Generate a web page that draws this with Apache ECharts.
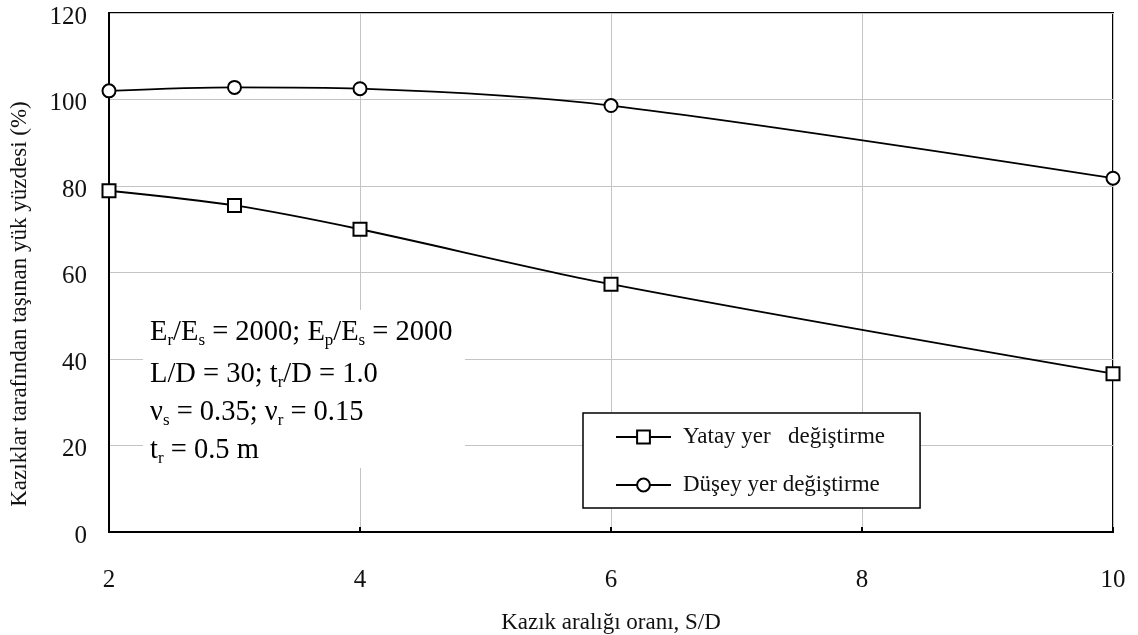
<!DOCTYPE html>
<html>
<head>
<meta charset="utf-8">
<script src="https://cdn.jsdelivr.net/npm/echarts@6/dist/echarts.min.js"></script>
<style>
  html, body { margin: 0; padding: 0; background: #fff; }
  #chart { width: 1138px; height: 635px; }
</style>
</head>
<body>
<div id="chart"></div>
<script>
// Pile spacing ratio S/D and share of load carried by the piles (%)
const spacingRatio = [2, 3, 4, 6, 10];
const horizontalDisp = [78.9, 75.5, 70.0, 57.3, 36.6];
const verticalDisp = [102.0, 102.8, 102.5, 98.6, 81.8];
const seriesNames = ['Yatay yer   değiştirme', 'Düşey yer değiştirme'];
const xAxisName = 'Kazık aralığı oranı, S/D';
const yAxisName = 'Kazıklar tarafından taşınan yük yüzdesi (%)';

const serif = '"Liberation Serif", "DejaVu Serif", serif';

function pairs(xs, ys) {
  return xs.map((x, i) => [x, ys[i]]);
}

// parameter block, with subscripts as rich-text tokens
const rich = {
  n: { fontFamily: serif, fontSize: 28.5, lineHeight: 34, color: '#111', verticalAlign: 'middle' },
  s: { fontFamily: serif, fontSize: 17, lineHeight: 14, color: '#111', verticalAlign: 'bottom' }
};
const paramLines = [
  '{n|E}{s|r}{n|/E}{s|s}{n| = 2000; E}{s|p}{n|/E}{s|s}{n| = 2000}',
  '{n|L/D = 30; t}{s|r}{n|/D = 1.0}',
  '{n|ν}{s|s}{n| = 0.35; ν}{s|r}{n| = 0.15}',
  '{n|t}{s|r}{n| = 0.5 m}'
];
const paramTops = [318, 360, 398, 436];

const chart = echarts.init(document.getElementById('chart'), null, { renderer: 'canvas' });

const lineStyle = { color: '#000', width: 1.8 };

chart.setOption({
  backgroundColor: '#fff',
  animation: false,
  grid: {
    left: 109, right: 25, top: 13, bottom: 103,
    outerBoundsMode: 'none', containLabel: false,
    show: true, borderColor: '#000', borderWidth: 2, backgroundColor: 'transparent'
  },
  xAxis: {
    type: 'value', min: 2, max: 10, interval: 2,
    name: xAxisName, nameLocation: 'middle', nameGap: 79,
    nameTextStyle: { fontFamily: serif, fontSize: 23, color: '#111' },
    axisLine: { show: true, lineStyle: { color: '#000', width: 2 } },
    axisTick: { show: true, inside: true, length: 5, lineStyle: { color: '#000', width: 2 } },
    axisLabel: { fontFamily: serif, fontSize: 25, color: '#111', margin: 36 },
    splitLine: { show: true, lineStyle: { color: '#c4c4c4', width: 1 } }
  },
  yAxis: {
    type: 'value', min: 0, max: 120, interval: 20,
    axisLine: { show: true, lineStyle: { color: '#000', width: 2 } },
    axisTick: { show: false },
    axisLabel: {
      margin: 22,
      formatter: '{v|{value}}',
      rich: { v: { fontFamily: serif, fontSize: 25, color: '#111', padding: [8, 0, 0, 0] } }
    },
    splitLine: { show: true, lineStyle: { color: '#c4c4c4', width: 1 } }
  },
  legend: {
    orient: 'vertical',
    left: 583, top: 413,
    padding: [11, 35, 10, 32],
    itemWidth: 55, itemHeight: 16, itemGap: 22,
    backgroundColor: '#fff', borderColor: '#000', borderWidth: 1.5,
    textStyle: { fontFamily: serif, fontSize: 23, lineHeight: 26, color: '#111', padding: [0, 0, 0, 7] },
    data: seriesNames
  },
  graphic: [
    {
      type: 'rect', left: 143, top: 310, z: 10, silent: true,
      shape: { width: 322, height: 158 },
      style: { fill: '#fff' }
    },
    ...paramLines.map((txt, i) => ({
      type: 'text', left: 150, top: paramTops[i], z: 11, silent: true,
      style: { text: txt, rich: rich }
    })),
    {
      type: 'text', z: 11, silent: true,
      x: 20, y: 304, rotation: Math.PI / 2,
      style: {
        text: yAxisName, fontFamily: serif, fontSize: 23, fill: '#111',
        align: 'center', verticalAlign: 'middle'
      }
    }
  ],
  series: [
    {
      name: seriesNames[0], type: 'line', smooth: 0.3,
      data: pairs(spacingRatio, horizontalDisp),
      symbol: 'emptyRect', symbolSize: 13,
      itemStyle: { color: '#000', borderWidth: 1.5 },
      lineStyle: lineStyle, z: 5
    },
    {
      name: seriesNames[1], type: 'line', smooth: 0.3,
      data: pairs(spacingRatio, verticalDisp),
      symbol: 'emptyCircle', symbolSize: 13,
      itemStyle: { color: '#000', borderWidth: 1.5 },
      lineStyle: lineStyle, z: 5
    }
  ]
});
</script>
</body>
</html>
